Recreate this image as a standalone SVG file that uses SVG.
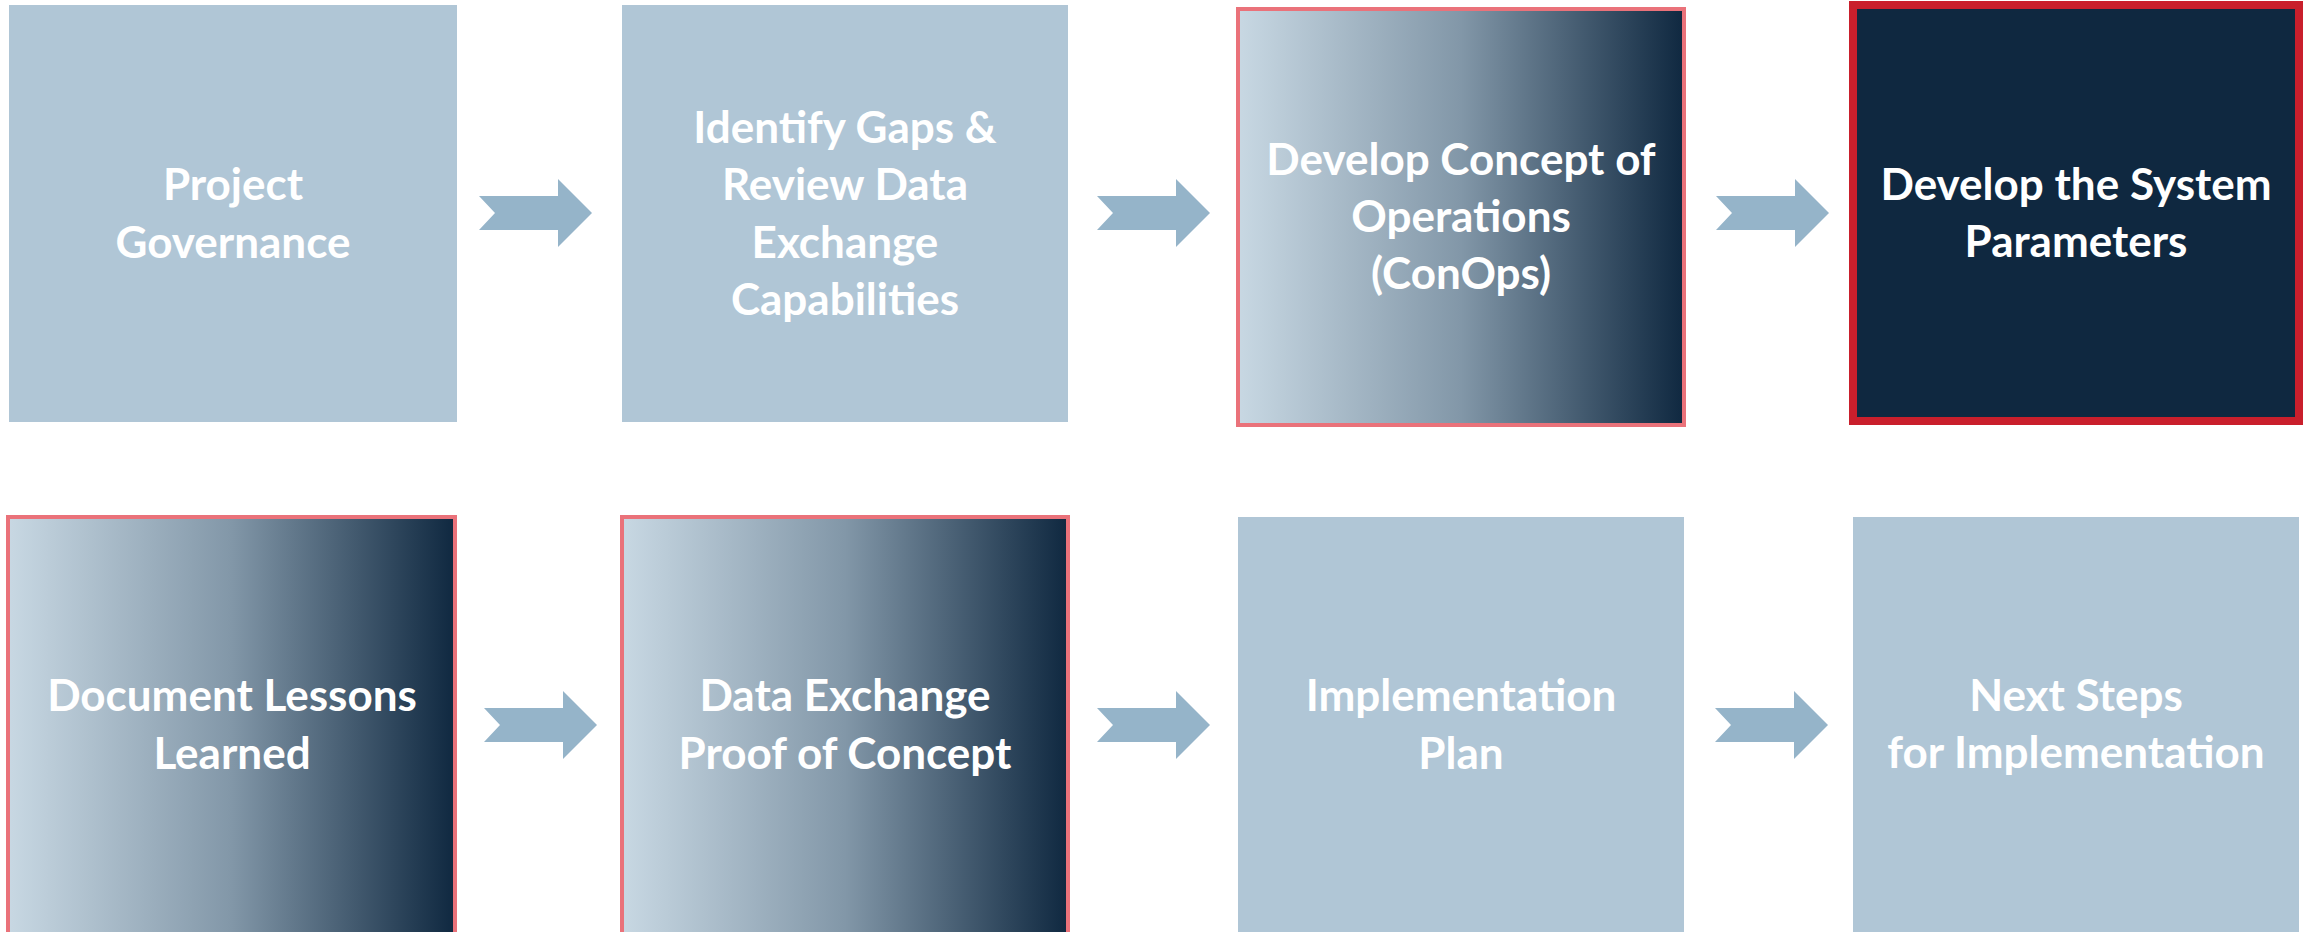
<svg xmlns="http://www.w3.org/2000/svg" xmlns:xlink="http://www.w3.org/1999/xlink" width="2310" height="932" viewBox="0 0 2310 932">
<style>
.light{fill:#B0C6D6;}
.grad{fill:url(#g);stroke:#EA727A;stroke-width:4;}
.dark{fill:#0F2840;stroke:#C91F2C;stroke-width:8;}
.arr{fill:#95B4C9;}
text{font-family:Lato,"Noto Sans","Liberation Sans",sans-serif;font-weight:bold;font-size:44px;fill:#FFFFFF;text-anchor:middle;}
</style>
<defs>
<linearGradient id="g" x1="0" y1="0" x2="1" y2="0">
<stop offset="0" stop-color="#C8D8E3"/>
<stop offset="0.5" stop-color="#8297A8"/>
<stop offset="1" stop-color="#0F2840"/>
</linearGradient>
<polygon id="ar" points="0,-17 79,-17 79,-34 113,0 79,34 79,17 0,17 16,0"/>
</defs>
<rect width="2310" height="932" fill="#FFFFFF"/>
<g id="connectors">
<use xlink:href="#ar" href="#ar" class="arr" x="479" y="213"/>
<use xlink:href="#ar" href="#ar" class="arr" x="1097" y="213"/>
<use xlink:href="#ar" href="#ar" class="arr" x="1716" y="213"/>
<use xlink:href="#ar" href="#ar" class="arr" x="484" y="725"/>
<use xlink:href="#ar" href="#ar" class="arr" x="1097" y="725"/>
<use xlink:href="#ar" href="#ar" class="arr" x="1715" y="725"/>
</g>
<g id="n1">
<rect class="light" x="9" y="5" width="448" height="417"/>
<text x="233" y="200">Project</text>
<text x="233" y="258">Governance</text>
</g>
<g id="n2">
<rect class="light" x="622" y="5" width="446" height="417"/>
<text x="845" y="142.5">Identify Gaps &amp;</text>
<text x="845" y="200">Review Data</text>
<text x="845" y="257.5">Exchange</text>
<text x="845" y="315">Capabilities</text>
</g>
<g id="n3">
<rect class="grad" x="1238" y="9" width="446" height="416"/>
<text x="1461" y="175">Develop Concept of</text>
<text x="1461" y="232">Operations</text>
<text x="1461" y="289">(ConOps)</text>
</g>
<g id="n4">
<rect class="dark" x="1853" y="5" width="446" height="416"/>
<text x="2076" y="200">Develop the System</text>
<text x="2076" y="257">Parameters</text>
</g>
<g id="n5">
<rect class="grad" x="8" y="517" width="447" height="430"/>
<text x="232" y="711">Document Lessons</text>
<text x="232" y="769">Learned</text>
</g>
<g id="n6">
<rect class="grad" x="622" y="517" width="446" height="430"/>
<text x="845" y="711">Data Exchange</text>
<text x="845" y="769">Proof of Concept</text>
</g>
<g id="n7">
<rect class="light" x="1238" y="517" width="446" height="430"/>
<text x="1461" y="711">Implementation</text>
<text x="1461" y="769">Plan</text>
</g>
<g id="n8">
<rect class="light" x="1853" y="517" width="446" height="430"/>
<text x="2076" y="711">Next Steps</text>
<text x="2076" y="768">for Implementation</text>
</g>
</svg>
